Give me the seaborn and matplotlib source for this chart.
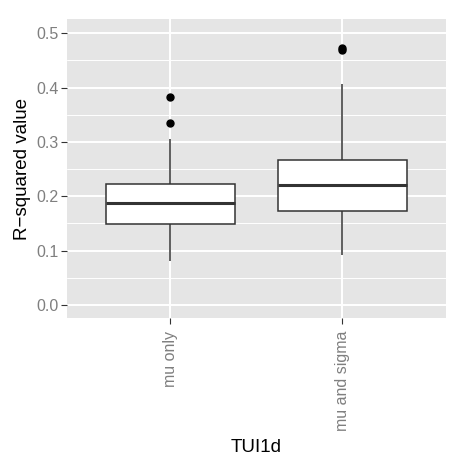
import matplotlib
matplotlib.use("Agg")
import matplotlib.pyplot as plt
from matplotlib.ticker import MultipleLocator
import seaborn as sns
import numpy as np
import pandas as pd

# box summaries
groups = ["mu only", "mu and sigma"]
whisker_lo = [0.081, 0.092]
q1 = [0.1495, 0.1735]
median = [0.187, 0.2215]
q3 = [0.2224, 0.267]
whisker_hi = [0.305, 0.406]
outliers = [[0.335, 0.383], [0.469, 0.472]]

# rebuild a small sample per group whose quartiles/whiskers give back those summaries
rows = []
for i, g in enumerate(groups):
    vals = ([whisker_lo[i]] + [q1[i]] * 3 + [median[i]] * 3 + [q3[i]] * 3
            + [whisker_hi[i]] + outliers[i])
    for v in vals:
        rows.append({"TUI1d": g, "rsq": v})
df = pd.DataFrame(rows)

sns.set_theme(style="darkgrid", rc={"axes.facecolor": "#E5E5E5", "grid.color": "white"})
plt.rcParams['font.family'] = ["Liberation Sans", "DejaVu Sans"]

fig = plt.figure(figsize=(4.65, 4.65), dpi=100)
ax = fig.add_axes([0.1441, 0.3161, 0.8144, 0.643])

sns.boxplot(data=df, x="TUI1d", y="rsq", order=groups, ax=ax, width=0.75,
            color="white", saturation=1, linecolor="#333333", linewidth=1.1,
            fliersize=5,
            flierprops={"marker": "o", "markerfacecolor": "black", "markeredgecolor": "black"},
            medianprops={"linewidth": 2.2, "color": "#333333"},
            capprops={"linewidth": 0})

ax.set_xlim(-0.6, 1.6)
ax.yaxis.set_major_locator(MultipleLocator(0.1))
ax.yaxis.set_minor_locator(MultipleLocator(0.05))
ax.set_ylim(-0.024, 0.526)
ax.yaxis.set_major_formatter(plt.FuncFormatter(lambda t, p: f"{t:.1f}"))
ax.grid(which="major", color="white", linewidth=1.4)
ax.grid(which="minor", axis="y", color="white", linewidth=0.7)
ax.set_axisbelow(True)
for s in ax.spines.values():
    s.set_visible(False)

ax.tick_params(axis="both", which="major", length=4, width=0.8, color="#333333",
               labelsize=11.5, labelcolor="#7F7F7F", pad=2, bottom=True, left=True)
ax.tick_params(axis="x", which="major", pad=5)
ax.tick_params(axis="y", which="minor", length=0)
plt.setp(ax.get_xticklabels(), rotation=90)

ax.set_xlabel("TUI1d", fontsize=13.5, color="black", labelpad=6)
ax.set_ylabel("R\u2212squared value", fontsize=13.5, color="black", labelpad=4)

fig.savefig("out.png", dpi=100)
